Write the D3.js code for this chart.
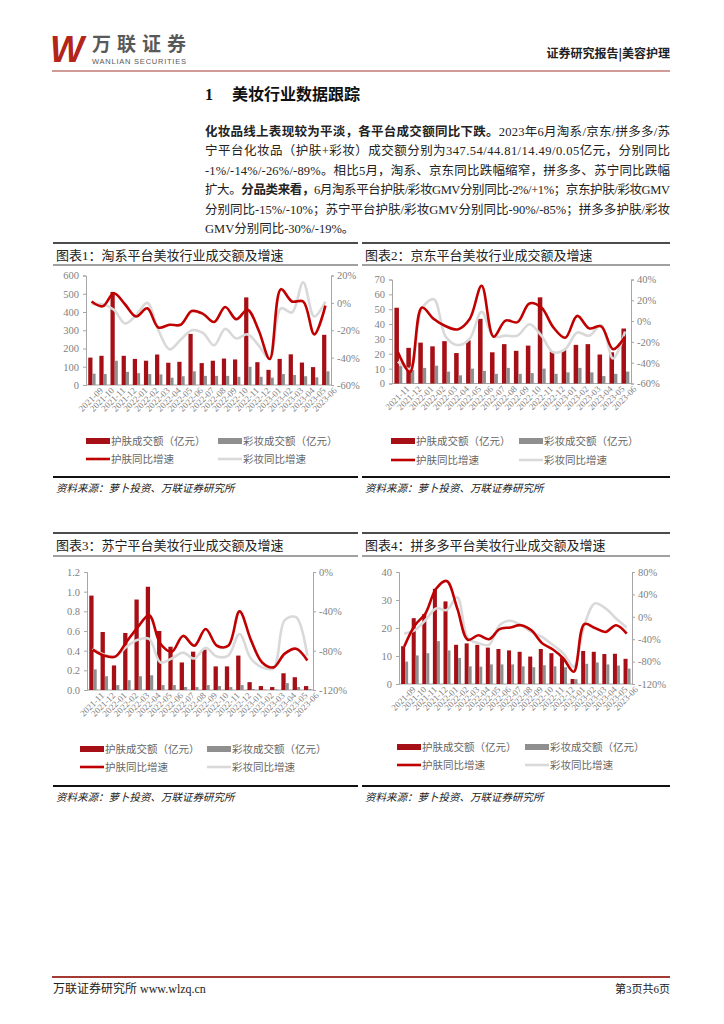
<!DOCTYPE html>
<html>
<head>
<meta charset="utf-8">
<script src="https://cdn.jsdelivr.net/npm/d3@7/dist/d3.min.js"></script>
<style>
  body { margin: 0; background: #fff; }
  svg { display: block; }
</style>
</head>
<body>
<script>
// DATA
// month labels
const monthsA = ["2021-09","2021-10","2021-11","2021-12","2022-01","2022-02","2022-03","2022-04","2022-05","2022-06","2022-07","2022-08","2022-09","2022-10","2022-11","2022-12","2023-01","2023-02","2023-03","2023-04","2023-05","2023-06"];
const monthsB = ["2021-11","2021-12","2022-01","2022-02","2022-03","2022-04","2022-05","2022-06","2022-07","2022-08","2022-09","2022-10","2022-11","2022-12","2023-01","2023-02","2023-03","2023-04","2023-05","2023-06"];

// 淘系
const taoSkin = [150,160,510,160,143,133,167,122,127,280,120,133,145,140,480,125,83,143,168,123,98,275];
const taoMakeup = [62,60,133,72,65,60,58,40,48,75,50,50,50,45,100,45,40,60,55,48,42,75];
const taoSkinYoy = [1,-2.5,7,-1,-10,-4,-18,-16,-16,-6,-8,-14,-3,-12,-5,-20,-41,10,1,1,-23,-2];
const taoMakeupYoy = [-1,-1,-5,-15,-9,0,-20,-34,-27,-20,-22,-31,-19,-26,-23,-31,-41,-4,-7,15,-10,1];

// 京东
const jdSkin = [51,24,27.5,25,28.5,20.5,29,43.5,21,26.5,22,25.5,58,21.5,22.5,26,26.5,19.5,21,37];
const jdMakeup = [12,9,10.5,12,8,5.5,10,8.5,6.5,10.5,6.5,7,10,6.5,7.5,10.5,7.5,5,6.5,8];
const jdSkinYoy = [-30,-49,13,2,-5,-8,2,34,-15,0.5,-1,17,13,-6,-16,5,-7,-5,-27,-15];
const jdMakeupYoy = [-39,-46,12,21,-15,-23,-17,9,-15,-14,-14,-3,-14,-30,-27,-11,-14,-4,-36,-10];

// 苏宁
const snSkin = [0.96,0.59,0.25,0.58,0.92,1.05,0.60,0.44,0.28,0.39,0.41,0.24,0.24,0.35,0.08,0.04,0.03,0.17,0.13,0.04];
const snMakeup = [0.21,0.14,0.05,0.10,0.14,0.15,0.05,0.05,0.03,0.03,0.05,0.04,0.03,0.05,0.01,0.005,0.005,0.07,0.03,0.01];
const snSkinYoy = [-79,-85,-86,-71,-56,-44,-73,-81,-65,-75,-58,-75,-75,-40,-69,-92,-97,-83,-78,-90];
const snMakeupYoy = [-78,-84,-86,-76,-69,-68,-92,-88,-82,-88,-77,-86,-85,-63,-88,-97,-98,-49,-46,-85];

// 拼多多
const pddSkin = [13.5,23.5,25,34,29.5,14,14.5,14,13,12.5,12,11.5,9.8,12.5,11,9.5,1.8,11.8,11.5,10.7,10.8,9];
const pddMakeup = [8,10.2,11,15.3,12,9.3,6.3,6.2,7,7,7,6.3,6,6.7,6.3,6,1.7,7.2,7.7,7,6.6,5.5];
const pddSkinYoy = [-53,-15,6,50,64,15,-41,-33,-40,-22,-19,-15,-24,-47,-58,-74,-98,-13,-20,-27,-15,-30];
const pddMakeupYoy = [-30,-24,-6,15,12,35,-38,-47,-50,-15,-7,-15,-27,-36,-50,-65,-89,-15,24,15,-3,-19];

// legend labels
const legendLabels = ["护肤成交额（亿元）","彩妆成交额（亿元）","护肤同比增速","彩妆同比增速"];

// paragraph lines
const paraLines = [
  [["化妆品线上表现较为平淡，各平台成交额同比下跌。", true], ["2023年6月淘系/京东/拼多多/苏", false]],
  [["宁平台化妆品（护肤+彩妆）成交额分别为347.54/44.81/14.49/0.05亿元，分别同比", false]],
  [["-1%/-14%/-26%/-89%。相比5月，淘系、京东同比跌幅缩窄，拼多多、苏宁同比跌幅", false]],
  [["扩大。", false], ["分品类来看，", true], ["6月淘系平台护肤/彩妆GMV分别同比-2%/+1%；京东护肤/彩妆GMV", false]],
  [["分别同比-15%/-10%；苏宁平台护肤/彩妆GMV分别同比-90%/-85%；拼多多护肤/彩妆", false]],
  [["GMV分别同比-30%/-19%。", false]]
];

// COLOURS
const RED_BAR = "#a50f15";
const GRAY_BAR = "#8f8f8f";
const RED_LINE = "#c00000";
const GRAY_LINE = "#d9d9d9";
const FONT = "'Liberation Serif', 'Noto Sans CJK SC', serif";
const CJK = "'Noto Sans CJK SC', sans-serif";

const svg = d3.select("body").append("svg").attr("width", 724).attr("height", 1024);
svg.append("rect").attr("width", 724).attr("height", 1024).attr("fill", "#fff");

// HEADER
svg.append("text").attr("x", 50).attr("y", 62)
  .attr("font-family", "'Liberation Sans', sans-serif").attr("font-weight", "bold").attr("font-style", "italic")
  .attr("font-size", 36).attr("fill", "#b3241b").attr("textLength", 34).attr("lengthAdjust", "spacingAndGlyphs").text("W");
svg.append("text").attr("x", 92).attr("y", 51)
  .attr("font-family", CJK).attr("font-weight", "bold").attr("font-size", 19).attr("fill", "#595959")
  .attr("textLength", 94).text("万联证券");
svg.append("text").attr("x", 92).attr("y", 64)
  .attr("font-family", "'Liberation Sans', sans-serif").attr("font-size", 7.5).attr("fill", "#595959")
  .attr("textLength", 94).text("WANLIAN SECURITIES");
svg.append("text").attr("x", 670).attr("y", 58).attr("text-anchor", "end")
  .attr("font-family", CJK).attr("font-weight", "bold").attr("font-size", 12).attr("fill", "#222")
  .text("证券研究报告|美容护理");
svg.append("line").attr("x1", 52).attr("x2", 670).attr("y1", 71).attr("y2", 71)
  .attr("stroke", "#a33a33").attr("stroke-width", 1.2);

// HEADING
svg.append("text").attr("x", 205).attr("y", 100)
  .attr("font-family", FONT).attr("font-weight", "bold").attr("font-size", 16).attr("fill", "#111")
  .text("1");
svg.append("text").attr("x", 232).attr("y", 100)
  .attr("font-family", FONT).attr("font-weight", "bold").attr("font-size", 16).attr("fill", "#111")
  .text("美妆行业数据跟踪");

// PARAGRAPH
paraLines.forEach((line, i) => {
  const t = svg.append("text").attr("x", 205).attr("y", 136 + i * 19.4)
    .attr("font-family", FONT).attr("font-size", 12.5).attr("fill", "#222");
  if (i < paraLines.length - 1) t.attr("textLength", 465).attr("lengthAdjust", "spacing");
  line.forEach(([s, b]) => t.append("tspan").attr("font-weight", b ? "bold" : "normal").text(s));
});

// CHARTS
function drawChart(c) {
  const g = svg.append("g");
  // frame lines
  g.append("line").attr("x1", c.box[0]).attr("x2", c.box[1]).attr("y1", c.lineTop).attr("y2", c.lineTop)
    .attr("stroke", "#111").attr("stroke-width", 1.6);
  g.append("line").attr("x1", c.box[0]).attr("x2", c.box[1]).attr("y1", c.lineTitle).attr("y2", c.lineTitle)
    .attr("stroke", "#111").attr("stroke-width", 0.8);
  g.append("line").attr("x1", c.box[0]).attr("x2", c.box[1]).attr("y1", c.lineBottom).attr("y2", c.lineBottom)
    .attr("stroke", "#111").attr("stroke-width", 2);
  g.append("text").attr("x", c.box[0] + 3).attr("y", c.lineTop + 17)
    .attr("font-family", FONT).attr("font-size", 13).attr("fill", "#222").text(c.title);
  g.append("text").attr("x", c.box[0] + 3).attr("y", c.lineBottom + 15)
    .attr("font-family", CJK).attr("font-style", "italic").attr("font-size", 10.5).attr("fill", "#222")
    .text("资料来源：萝卜投资、万联证券研究所");

  // scales
  const x = d3.scaleBand().domain(c.months).range([c.x0, c.x1]);
  const yL = d3.scaleLinear().domain([0, c.leftMax]).range([c.yBot, c.yTop]);
  const yR = d3.scaleLinear().domain([c.rightMin, c.rightMax]).range([c.yBot, c.yTop]);
  const cx = d => x(d) + x.bandwidth() / 2;

  // axes
  const axL = d3.axisLeft(yL).tickValues(d3.range(0, c.leftMax + c.leftStep / 2, c.leftStep))
    .tickFormat(c.leftFmt).tickSize(3).tickPadding(4);
  const axR = d3.axisRight(yR).tickValues(d3.range(c.rightMin, c.rightMax + c.rightStep / 2, c.rightStep))
    .tickFormat(d => d + "%").tickSize(3).tickPadding(3);
  const axB = d3.axisBottom(x).tickSize(0).tickPadding(4);

  const styleAxis = sel => {
    sel.selectAll("path, line").attr("stroke", "#a6a6a6");
    sel.selectAll("text").attr("fill", "#7f7f7f").attr("font-family", FONT).attr("font-size", 10.5);
  };
  g.append("g").attr("transform", `translate(${c.x0},0)`).call(axL).call(styleAxis);
  g.append("g").attr("transform", `translate(${c.x1},0)`).call(axR).call(styleAxis);
  const gb = g.append("g").attr("transform", `translate(0,${c.yBot})`).call(axB).call(styleAxis);
  gb.select(".domain").attr("d", `M${c.x0},0H${c.x1}`);
  gb.selectAll("text").attr("font-size", 9).attr("text-anchor", "end")
    .attr("transform", "translate(6,0) rotate(-45)").attr("dy", "0.5em");

  // bars
  const bw = x.bandwidth();
  g.append("g").selectAll("rect").data(c.skin).enter().append("rect")
    .attr("x", (d, i) => cx(c.months[i]) - bw * 0.3)
    .attr("width", bw * 0.38)
    .attr("y", d => yL(d)).attr("height", d => c.yBot - yL(d))
    .attr("fill", RED_BAR);
  g.append("g").selectAll("rect").data(c.makeup).enter().append("rect")
    .attr("x", (d, i) => cx(c.months[i]) + bw * 0.08)
    .attr("width", bw * 0.28)
    .attr("y", d => yL(d)).attr("height", d => c.yBot - yL(d))
    .attr("fill", GRAY_BAR);

  // lines
  const line = d3.line().x((d, i) => cx(c.months[i])).y(d => yR(d)).curve(d3.curveCatmullRom.alpha(0.5));
  g.append("path").datum(c.makeupYoy).attr("d", line).attr("fill", "none")
    .attr("stroke", GRAY_LINE).attr("stroke-width", 2.6);
  g.append("path").datum(c.skinYoy).attr("d", line).attr("fill", "none")
    .attr("stroke", RED_LINE).attr("stroke-width", 2.6);

  // legend
  const lg = g.append("g").attr("font-family", CJK).attr("font-size", 10.5).attr("fill", "#666");
  const items = [
    { x: c.legX[0], y: c.legY[0], type: "rect", col: RED_BAR },
    { x: c.legX[1], y: c.legY[0], type: "rect", col: GRAY_BAR },
    { x: c.legX[0], y: c.legY[1], type: "line", col: RED_LINE },
    { x: c.legX[1], y: c.legY[1], type: "line", col: GRAY_LINE }
  ];
  items.forEach((it, i) => {
    if (it.type === "rect") {
      lg.append("rect").attr("x", it.x).attr("y", it.y - 3).attr("width", 24).attr("height", 6).attr("fill", it.col);
    } else {
      lg.append("line").attr("x1", it.x).attr("x2", it.x + 24).attr("y1", it.y).attr("y2", it.y)
        .attr("stroke", it.col).attr("stroke-width", 2.6);
    }
    lg.append("text").attr("x", it.x + 25).attr("y", it.y + 3.8).text(legendLabels[i]);
  });
}

const charts = [
  { title: "图表1：淘系平台美妆行业成交额及增速", months: monthsA,
    skin: taoSkin, makeup: taoMakeup, skinYoy: taoSkinYoy, makeupYoy: taoMakeupYoy,
    box: [53, 358], lineTop: 243, lineTitle: 265, lineBottom: 477,
    x0: 86, x1: 331, yTop: 275.5, yBot: 385,
    leftMax: 600, leftStep: 100, leftFmt: d3.format("d"), rightMin: -60, rightMax: 20, rightStep: 20,
    legX: [86, 218], legY: [441, 459] },
  { title: "图表2：京东平台美妆行业成交额及增速", months: monthsB,
    skin: jdSkin, makeup: jdMakeup, skinYoy: jdSkinYoy, makeupYoy: jdMakeupYoy,
    box: [362, 670], lineTop: 243, lineTitle: 265, lineBottom: 477,
    x0: 392, x1: 631, yTop: 279.5, yBot: 383.5,
    leftMax: 70, leftStep: 10, leftFmt: d3.format("d"), rightMin: -60, rightMax: 40, rightStep: 20,
    legX: [391, 519], legY: [441, 460] },
  { title: "图表3：苏宁平台美妆行业成交额及增速", months: monthsB,
    skin: snSkin, makeup: snMakeup, skinYoy: snSkinYoy, makeupYoy: snMakeupYoy,
    box: [53, 358], lineTop: 533, lineTitle: 556, lineBottom: 786,
    x0: 87, x1: 313, yTop: 572, yBot: 690,
    leftMax: 1.2, leftStep: 0.2, leftFmt: d3.format(".1f"), rightMin: -120, rightMax: 0, rightStep: 40,
    legX: [80, 207], legY: [749, 767] },
  { title: "图表4：拼多多平台美妆行业成交额及增速", months: monthsA,
    skin: pddSkin, makeup: pddMakeup, skinYoy: pddSkinYoy, makeupYoy: pddMakeupYoy,
    box: [362, 670], lineTop: 533, lineTitle: 556, lineBottom: 786,
    x0: 399, x1: 632, yTop: 572, yBot: 684,
    leftMax: 40, leftStep: 10, leftFmt: d3.format("d"), rightMin: -120, rightMax: 80, rightStep: 40,
    legX: [397, 525], legY: [747, 765] }
];
charts.forEach(drawChart);

// FOOTER
svg.append("line").attr("x1", 52).attr("x2", 670).attr("y1", 977).attr("y2", 977)
  .attr("stroke", "#a33a33").attr("stroke-width", 2);
svg.append("text").attr("x", 53).attr("y", 993)
  .attr("font-family", FONT).attr("font-size", 12).attr("fill", "#222").text("万联证券研究所 www.wlzq.cn");
svg.append("text").attr("x", 670).attr("y", 993).attr("text-anchor", "end")
  .attr("font-family", FONT).attr("font-size", 11).attr("fill", "#222").text("第3页共6页");
</script>
</body>
</html>
